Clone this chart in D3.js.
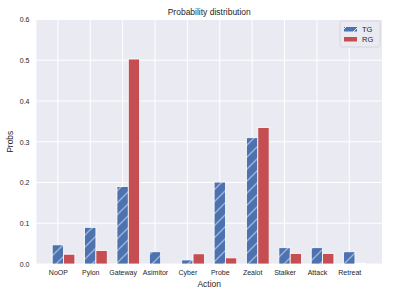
<!DOCTYPE html>
<html>
<head>
<meta charset="utf-8">
<script src="https://cdn.jsdelivr.net/npm/d3@7"></script>
<style>
  body { margin: 0; background: #fff; }
  text { font-family: "Liberation Sans", Arial, sans-serif; fill: #262626; }
</style>
</head>
<body>
<div id="chart"></div>
<script>
const actions = ["NoOP", "Pylon", "Gateway", "Asimitor", "Cyber", "Probe", "Zealot", "Stalker", "Attack", "Retreat"];
const tgProbs = [0.047, 0.090, 0.190, 0.030, 0.010, 0.201, 0.310, 0.040, 0.040, 0.030];
const rgProbs = [0.024, 0.033, 0.503, 0.000, 0.025, 0.015, 0.335, 0.026, 0.026, 0.002];
const yTicks = [0.0, 0.1, 0.2, 0.3, 0.4, 0.5, 0.6];
const seriesNames = ["TG", "RG"];

const W = 395, H = 296;
const margin = { top: 19.5, right: 13, bottom: 32, left: 36.5 };
const width = W - margin.left - margin.right,
      height = H - margin.top - margin.bottom;
const barW = 0.35;

const svg = d3.select("#chart").append("svg")
  .attr("width", W).attr("height", H);

// hatch pattern for TG bars
svg.append("defs").append("pattern")
  .attr("id", "hatch")
  .attr("patternUnits", "userSpaceOnUse")
  .attr("width", 12).attr("height", 12)
  .call(p => {
    p.append("rect").attr("width", 12).attr("height", 12).attr("fill", "#4c72b0");
    p.append("path").attr("d", "M-3,3 L3,-3 M0,12 L12,0 M9,15 L15,9")
      .attr("stroke", "#fff").attr("stroke-width", 0.9);
  });

const g = svg.append("g").attr("transform", `translate(${margin.left},${margin.top})`);

const x = d3.scaleLinear().domain([-0.66, 10.01]).range([0, width]);
const y = d3.scaleLinear().domain([0, 0.6]).range([height, 0]);

g.append("rect").attr("width", width).attr("height", height).attr("fill", "#eaeaf2");

// grid
g.append("g").selectAll("line").data(yTicks).enter().append("line")
  .attr("x1", 0).attr("x2", width)
  .attr("y1", d => y(d)).attr("y2", d => y(d))
  .attr("stroke", "#fff").attr("stroke-width", 1);
g.append("g").selectAll("line").data(actions).enter().append("line")
  .attr("x1", (d, i) => x(i)).attr("x2", (d, i) => x(i))
  .attr("y1", 0).attr("y2", height)
  .attr("stroke", "#fff").attr("stroke-width", 1);

// bars
g.append("g").selectAll("rect").data(tgProbs).enter().append("rect")
  .attr("x", (d, i) => x(i - barW / 2))
  .attr("width", x(barW) - x(0))
  .attr("y", d => y(d))
  .attr("height", d => y(0) - y(d))
  .attr("fill", "url(#hatch)")
  .attr("stroke", "#fff").attr("stroke-width", 0.8);

g.append("g").selectAll("rect").data(rgProbs).enter().append("rect")
  .attr("x", (d, i) => x(i + barW / 2))
  .attr("width", x(barW) - x(0))
  .attr("y", d => y(d))
  .attr("height", d => y(0) - y(d))
  .attr("fill", "#c44e52")
  .attr("stroke", "#fff").attr("stroke-width", 0.8);

// axes
const xAxis = g.append("g").attr("transform", `translate(0,${height})`)
  .call(d3.axisBottom(x).tickValues(d3.range(actions.length))
    .tickFormat(i => actions[i]).tickSize(0).tickPadding(6.5));
const yAxis = g.append("g")
  .call(d3.axisLeft(y).tickValues(yTicks).tickFormat(d3.format(".1f"))
    .tickSize(0).tickPadding(7));
[xAxis, yAxis].forEach(a => {
  a.select(".domain").remove();
  a.selectAll("text").attr("font-size", 7).attr("fill", "#262626")
    .style("font-family", "'Liberation Sans', Arial, sans-serif");
});

// labels
svg.append("text").attr("x", margin.left + width / 2).attr("y", 15)
  .attr("text-anchor", "middle").attr("font-size", 8.5).text("Probability distribution");
svg.append("text").attr("x", margin.left + width / 2).attr("y", 287)
  .attr("text-anchor", "middle").attr("font-size", 8.5).text("Action");
svg.append("text").attr("transform", `translate(13,${margin.top + height / 2}) rotate(-90)`)
  .attr("text-anchor", "middle").attr("font-size", 8.5).text("Probs");

// legend
const lg = svg.append("g").attr("transform", "translate(340,21)");
lg.append("rect").attr("width", 40).attr("height", 26).attr("rx", 2)
  .attr("fill", "#eaeaf2").attr("stroke", "#d0d0d8").attr("stroke-width", 0.8);
seriesNames.forEach((name, i) => {
  lg.append("rect").attr("x", 4).attr("y", 6 + i * 10).attr("width", 13).attr("height", 4.5)
    .attr("fill", i === 0 ? "url(#hatch)" : "#c44e52");
  lg.append("text").attr("x", 22).attr("y", 11 + i * 10).attr("font-size", 7.5).text(name);
});
</script>
</body>
</html>
